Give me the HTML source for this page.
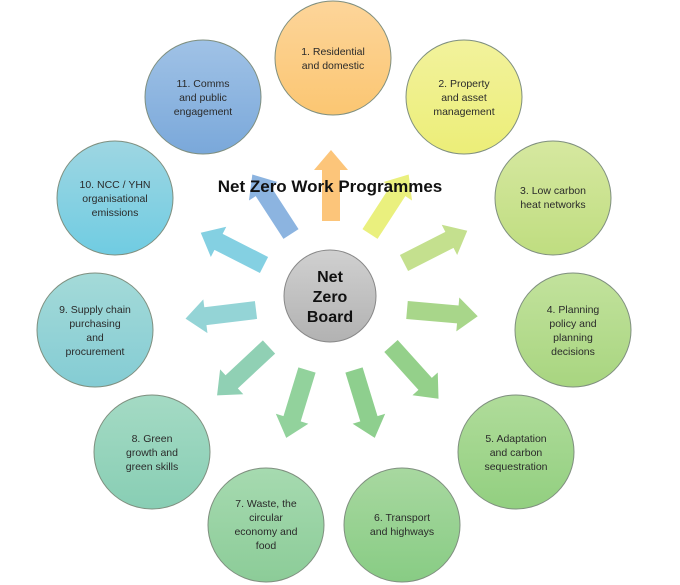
<!DOCTYPE html>
<html><head><meta charset="utf-8"><style>
html,body{margin:0;padding:0;background:#fff;}
svg{display:block;}
text{font-family:"Liberation Sans",sans-serif;fill:#2a2a2a;}
</style></head><body>
<svg width="680" height="585" viewBox="0 0 680 585" xmlns="http://www.w3.org/2000/svg">
<defs>
<linearGradient id="g1" x1="0" y1="0" x2="0" y2="1"><stop offset="0" stop-color="#fdd59a"/><stop offset="1" stop-color="#fbc672"/></linearGradient>
<linearGradient id="g2" x1="0" y1="0" x2="0" y2="1"><stop offset="0" stop-color="#f2f29c"/><stop offset="1" stop-color="#ecee78"/></linearGradient>
<linearGradient id="g3" x1="0" y1="0" x2="0" y2="1"><stop offset="0" stop-color="#d6e8a0"/><stop offset="1" stop-color="#bfdd80"/></linearGradient>
<linearGradient id="g4" x1="0" y1="0" x2="0" y2="1"><stop offset="0" stop-color="#c2e29c"/><stop offset="1" stop-color="#a8d580"/></linearGradient>
<linearGradient id="g5" x1="0" y1="0" x2="0" y2="1"><stop offset="0" stop-color="#b0dc9a"/><stop offset="1" stop-color="#92cf80"/></linearGradient>
<linearGradient id="g6" x1="0" y1="0" x2="0" y2="1"><stop offset="0" stop-color="#a8d8a0"/><stop offset="1" stop-color="#88cc84"/></linearGradient>
<linearGradient id="g7" x1="0" y1="0" x2="0" y2="1"><stop offset="0" stop-color="#a6dab0"/><stop offset="1" stop-color="#8ccc98"/></linearGradient>
<linearGradient id="g8" x1="0" y1="0" x2="0" y2="1"><stop offset="0" stop-color="#a4dac4"/><stop offset="1" stop-color="#88ceb4"/></linearGradient>
<linearGradient id="g9" x1="0" y1="0" x2="0" y2="1"><stop offset="0" stop-color="#a4dad8"/><stop offset="1" stop-color="#84ccd4"/></linearGradient>
<linearGradient id="g10" x1="0" y1="0" x2="0" y2="1"><stop offset="0" stop-color="#9ed6e2"/><stop offset="1" stop-color="#70cce2"/></linearGradient>
<linearGradient id="g11" x1="0" y1="0" x2="0" y2="1"><stop offset="0" stop-color="#a0c2e6"/><stop offset="1" stop-color="#7aa8da"/></linearGradient>
<linearGradient id="gc" x1="0" y1="0" x2="0" y2="1"><stop offset="0" stop-color="#d0d0d0"/><stop offset="1" stop-color="#b2b2b2"/></linearGradient>
</defs>

<!-- arrows: shaft width 18, head width 34, head length 20 -->
<g>
<polygon points="-9,0 -9,-51 -17,-51 0,-71 17,-51 9,-51 9,0" fill="#fcc57a" transform="translate(331,221)"/>
<polygon points="-9,0 -9,-51 -17,-51 0,-71 17,-51 9,-51 9,0" fill="#86b0de" opacity="0.95" transform="translate(291,234) rotate(-33)"/>
<polygon points="-9,0 -9,-51 -17,-51 0,-71 17,-51 9,-51 9,0" fill="#eaf07e" transform="translate(370,234) rotate(33)"/>
<polygon points="-9,0 -9,-51 -17,-51 0,-71 17,-51 9,-51 9,0" fill="#c4e08e" transform="translate(404,263) rotate(63)"/>
<polygon points="-9,0 -9,-51 -17,-51 0,-71 17,-51 9,-51 9,0" fill="#a8d68a" transform="translate(407,310) rotate(95)"/>
<polygon points="-9,0 -9,-51 -17,-51 0,-71 17,-51 9,-51 9,0" fill="#94d08a" transform="translate(391,346) rotate(138)"/>
<polygon points="-9,0 -9,-51 -17,-51 0,-71 17,-51 9,-51 9,0" fill="#8ecf8e" transform="translate(354,370) rotate(163)"/>
<polygon points="-9,0 -9,-51 -17,-51 0,-71 17,-51 9,-51 9,0" fill="#92d29c" transform="translate(307,370) rotate(-163)"/>
<polygon points="-9,0 -9,-51 -17,-51 0,-71 17,-51 9,-51 9,0" fill="#90d0b4" transform="translate(269,347) rotate(-133)"/>
<polygon points="-9,0 -9,-51 -17,-51 0,-71 17,-51 9,-51 9,0" fill="#94d4d6" transform="translate(256,310) rotate(-97)"/>
<polygon points="-9,0 -9,-51 -17,-51 0,-71 17,-51 9,-51 9,0" fill="#84d0e2" transform="translate(264,265) rotate(-63)"/>
</g>

<text x="330" y="192" text-anchor="middle" font-size="17" font-weight="bold" style="fill:#111">Net Zero Work Programmes</text>

<g stroke="#7f8f7f" stroke-width="1" font-size="11">
<ellipse cx="333" cy="58" rx="58" ry="57" fill="url(#g1)"/>
<ellipse cx="464" cy="97" rx="58" ry="57" fill="url(#g2)"/>
<ellipse cx="553" cy="198" rx="58" ry="57" fill="url(#g3)"/>
<ellipse cx="573" cy="330" rx="58" ry="57" fill="url(#g4)"/>
<ellipse cx="516" cy="452" rx="58" ry="57" fill="url(#g5)"/>
<ellipse cx="402" cy="525" rx="58" ry="57" fill="url(#g6)"/>
<ellipse cx="266" cy="525" rx="58" ry="57" fill="url(#g7)"/>
<ellipse cx="152" cy="452" rx="58" ry="57" fill="url(#g8)"/>
<ellipse cx="95" cy="330" rx="58" ry="57" fill="url(#g9)"/>
<ellipse cx="115" cy="198" rx="58" ry="57" fill="url(#g10)"/>
<ellipse cx="203" cy="97" rx="58" ry="57" fill="url(#g11)"/>
<circle cx="330" cy="296" r="46" fill="url(#gc)" stroke="#888"/>
</g>

<g font-size="10.5" text-anchor="middle" stroke="none">
<text x="333" y="55">1. Residential</text><text x="333" y="69">and domestic</text>
<text x="464" y="87">2. Property</text><text x="464" y="101">and asset</text><text x="464" y="115">management</text>
<text x="553" y="194">3. Low carbon</text><text x="553" y="208">heat networks</text>
<text x="573" y="313">4. Planning</text><text x="573" y="327">policy and</text><text x="573" y="341">planning</text><text x="573" y="355">decisions</text>
<text x="516" y="442">5. Adaptation</text><text x="516" y="456">and carbon</text><text x="516" y="470">sequestration</text>
<text x="402" y="521">6. Transport</text><text x="402" y="535">and highways</text>
<text x="266" y="507">7. Waste, the</text><text x="266" y="521">circular</text><text x="266" y="535">economy and</text><text x="266" y="549">food</text>
<text x="152" y="442">8. Green</text><text x="152" y="456">growth and</text><text x="152" y="470">green skills</text>
<text x="95" y="313">9. Supply chain</text><text x="95" y="327">purchasing</text><text x="95" y="341">and</text><text x="95" y="355">procurement</text>
<text x="115" y="188">10. NCC / YHN</text><text x="115" y="202">organisational</text><text x="115" y="216">emissions</text>
<text x="203" y="87">11. Comms</text><text x="203" y="101">and public</text><text x="203" y="115">engagement</text>
</g>
<g font-size="16" font-weight="bold" text-anchor="middle">
<text x="330" y="282" style="fill:#111">Net</text>
<text x="330" y="302" style="fill:#111">Zero</text>
<text x="330" y="322" style="fill:#111">Board</text>
</g>
</svg>
</body></html>
